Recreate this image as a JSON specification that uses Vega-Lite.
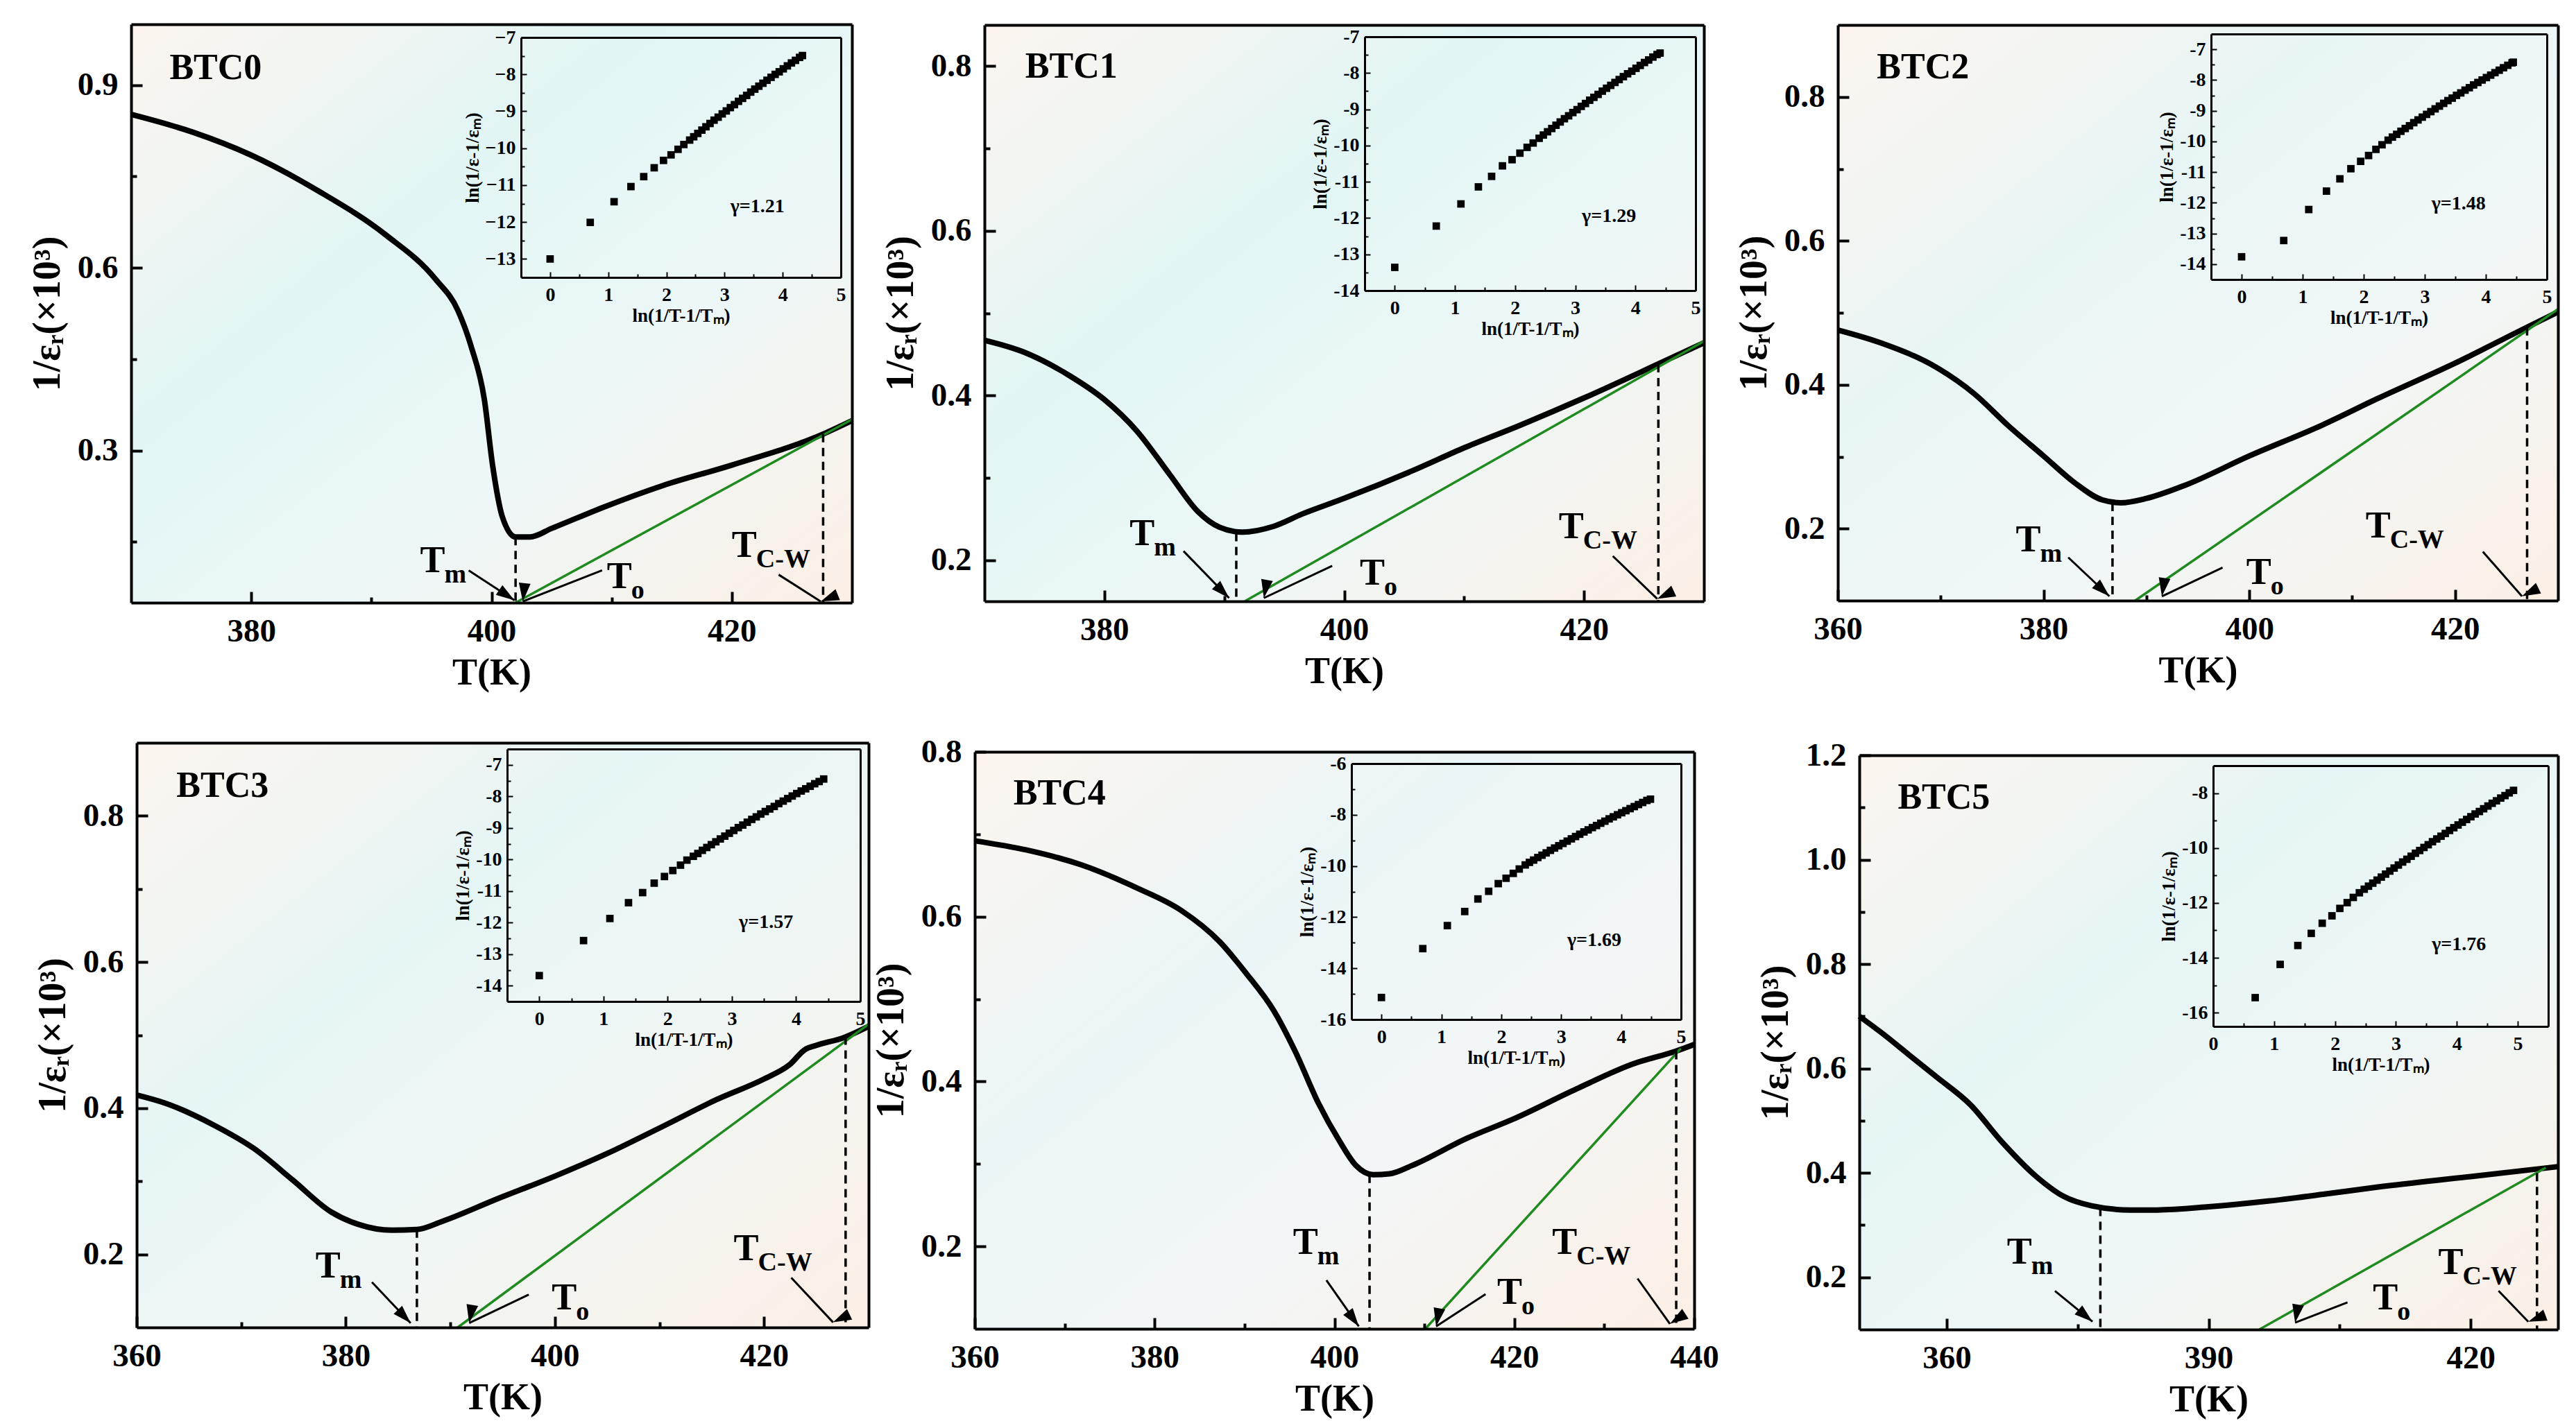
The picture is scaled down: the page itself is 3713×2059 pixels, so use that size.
{
"$schema": "https://vega.github.io/schema/vega-lite/v6.json",
"width": 3713, "height": 2059, "autosize": "none", "padding": 0, "background": "white",
"config": {
  "view": {"stroke": null},
  "axis": {"grid": false, "zindex": 1, "labelFont": "Liberation Serif", "labelFontWeight": "bold", "labelColor": "black",
    "titleFont": "Liberation Serif", "titleFontWeight": "bold", "titleColor": "black", "domainColor": "black", "tickColor": "black",
    "labelFlush": false, "labelOverlap": false, "labelBound": false},
  "text": {"font": "Liberation Serif", "fontWeight": "bold", "color": "black"}
},
"datasets": {
  "c0": [{"T":370,"v":0.852},{"T":375.1,"v":0.823},{"T":380,"v":0.785},{"T":385.6,"v":0.726},{"T":391.2,"v":0.654},{"T":395.35,"v":0.581},{"T":397.2,"v":0.53},{"T":398.3,"v":0.471},{"T":399.4,"v":0.384},{"T":400.1,"v":0.274},{"T":400.9,"v":0.191},{"T":402,"v":0.158},{"T":403.2,"v":0.158},{"T":405,"v":0.172},{"T":409.6,"v":0.209},{"T":414.2,"v":0.242},{"T":420,"v":0.276},{"T":427.6,"v":0.327},{"T":430,"v":0.349}],
  "g0": [{"T":402,"v":0.05},{"T":430,"v":0.351}],
  "d0": [{"T":402,"v":0.158},{"T":427.6,"v":0.327}],
  "a0": [{"k":"Tm","sub":"m","tx":394.05,"ty":0.1,"ax":398.1,"ay":0.103,"bx":401.9,"by":0.054},
         {"k":"To","sub":"o","tx":409.6,"ty":0.074,"ax":409.2,"ay":0.103,"bx":402.6,"by":0.052},
         {"k":"TCW","sub":"C-W","tx":420,"ty":0.125,"ax":423.9,"ay":0.096,"bx":427.4,"by":0.052}],
  "i0": [{"x":0,"y":-13},{"x":0.69,"y":-12.01},{"x":1.1,"y":-11.45},{"x":1.39,"y":-11.04},{"x":1.61,"y":-10.77},{"x":1.79,"y":-10.53},{"x":1.95,"y":-10.33},{"x":2.08,"y":-10.18},{"x":2.2,"y":-10.03},{"x":2.3,"y":-9.9},{"x":2.4,"y":-9.78},
         {"x":2.47,"y":-9.69},{"x":2.54,"y":-9.6},{"x":2.61,"y":-9.51},{"x":2.68,"y":-9.42},{"x":2.75,"y":-9.33},{"x":2.82,"y":-9.24},{"x":2.89,"y":-9.16},{"x":2.96,"y":-9.07},{"x":3.03,"y":-8.99},{"x":3.1,"y":-8.9},{"x":3.17,"y":-8.82},{"x":3.24,"y":-8.73},{"x":3.31,"y":-8.65},{"x":3.38,"y":-8.57},{"x":3.45,"y":-8.48},{"x":3.52,"y":-8.4},{"x":3.59,"y":-8.32},{"x":3.66,"y":-8.24},{"x":3.73,"y":-8.16},{"x":3.8,"y":-8.08},{"x":3.87,"y":-8},{"x":3.94,"y":-7.93},{"x":4.01,"y":-7.85},{"x":4.08,"y":-7.77},{"x":4.15,"y":-7.69},{"x":4.22,"y":-7.62},{"x":4.29,"y":-7.54},{"x":4.34,"y":-7.49}],
  "c1": [{"T":370,"v":0.467},{"T":373.4,"v":0.452},{"T":377.1,"v":0.424},{"T":380,"v":0.395},{"T":382.7,"v":0.357},{"T":385.5,"v":0.303},{"T":387.8,"v":0.259},{"T":389.6,"v":0.24},{"T":391.5,"v":0.234},{"T":394.1,"v":0.241},{"T":396.5,"v":0.256},{"T":400,"v":0.275},{"T":405.6,"v":0.308},{"T":410.1,"v":0.337},{"T":414.7,"v":0.364},{"T":420,"v":0.397},{"T":426.3,"v":0.439},{"T":430,"v":0.464}],
  "g1": [{"T":391.7,"v":0.15},{"T":430,"v":0.466}],
  "d1": [{"T":391,"v":0.233},{"T":426.2,"v":0.438}],
  "a1": [{"k":"Tm","sub":"m","tx":382.1,"ty":0.218,"ax":386.6,"ay":0.211,"bx":390.4,"by":0.154},
         {"k":"To","sub":"o","tx":401.3,"ty":0.17,"ax":399,"ay":0.193,"bx":393.3,"by":0.154},
         {"k":"TCW","sub":"C-W","tx":417.9,"ty":0.227,"ax":422.4,"ay":0.205,"bx":426.1,"by":0.153}],
  "i1": [{"x":0,"y":-13.36},{"x":0.69,"y":-12.22},{"x":1.1,"y":-11.61},{"x":1.39,"y":-11.14},{"x":1.61,"y":-10.85},{"x":1.79,"y":-10.56},{"x":1.95,"y":-10.39},{"x":2.08,"y":-10.21},{"x":2.2,"y":-10.05},{"x":2.3,"y":-9.93},{"x":2.4,"y":-9.8},
         {"x":2.47,"y":-9.71},{"x":2.54,"y":-9.62},{"x":2.61,"y":-9.53},{"x":2.68,"y":-9.44},{"x":2.75,"y":-9.35},{"x":2.82,"y":-9.26},{"x":2.89,"y":-9.18},{"x":2.96,"y":-9.09},{"x":3.03,"y":-9.01},{"x":3.1,"y":-8.92},{"x":3.17,"y":-8.84},{"x":3.24,"y":-8.75},{"x":3.31,"y":-8.67},{"x":3.38,"y":-8.59},{"x":3.45,"y":-8.5},{"x":3.52,"y":-8.42},{"x":3.59,"y":-8.34},{"x":3.66,"y":-8.26},{"x":3.73,"y":-8.18},{"x":3.8,"y":-8.1},{"x":3.87,"y":-8.02},{"x":3.94,"y":-7.95},{"x":4.01,"y":-7.87},{"x":4.08,"y":-7.79},{"x":4.15,"y":-7.71},{"x":4.22,"y":-7.64},{"x":4.29,"y":-7.56},{"x":4.36,"y":-7.49},{"x":4.41,"y":-7.45}],
  "c2": [{"T":360,"v":0.476},{"T":364.2,"v":0.458},{"T":369.6,"v":0.424},{"T":373.3,"v":0.387},{"T":376.5,"v":0.344},{"T":380,"v":0.301},{"T":383,"v":0.264},{"T":385.7,"v":0.24},{"T":387.5,"v":0.236},{"T":390,"v":0.242},{"T":393.7,"v":0.26},{"T":400,"v":0.301},{"T":407.1,"v":0.344},{"T":412.5,"v":0.381},{"T":420,"v":0.43},{"T":427,"v":0.48},{"T":430,"v":0.501}],
  "g2": [{"T":388.9,"v":0.1},{"T":430,"v":0.505}],
  "d2": [{"T":386.7,"v":0.236},{"T":427,"v":0.48}],
  "a2": [{"k":"Tm","sub":"m","tx":377.3,"ty":0.168,"ax":382.4,"ay":0.16,"bx":386.4,"by":0.106},
         {"k":"To","sub":"o","tx":399.7,"ty":0.123,"ax":397.4,"ay":0.146,"bx":391.5,"by":0.106},
         {"k":"TCW","sub":"C-W","tx":411.3,"ty":0.188,"ax":422.7,"ay":0.168,"bx":426.5,"by":0.106}],
  "i2": [{"x":0,"y":-13.76},{"x":0.69,"y":-13.23},{"x":1.1,"y":-12.22},{"x":1.39,"y":-11.62},{"x":1.61,"y":-11.22},{"x":1.79,"y":-10.89},{"x":1.95,"y":-10.65},{"x":2.08,"y":-10.46},{"x":2.2,"y":-10.26},{"x":2.3,"y":-10.11},{"x":2.4,"y":-9.96},
         {"x":2.47,"y":-9.86},{"x":2.54,"y":-9.77},{"x":2.61,"y":-9.67},{"x":2.68,"y":-9.58},{"x":2.75,"y":-9.49},{"x":2.82,"y":-9.39},{"x":2.89,"y":-9.3},{"x":2.96,"y":-9.21},{"x":3.03,"y":-9.12},{"x":3.1,"y":-9.03},{"x":3.17,"y":-8.94},{"x":3.24,"y":-8.85},{"x":3.31,"y":-8.76},{"x":3.38,"y":-8.67},{"x":3.45,"y":-8.59},{"x":3.52,"y":-8.5},{"x":3.59,"y":-8.42},{"x":3.66,"y":-8.33},{"x":3.73,"y":-8.25},{"x":3.8,"y":-8.16},{"x":3.87,"y":-8.08},{"x":3.94,"y":-8},{"x":4.01,"y":-7.92},{"x":4.08,"y":-7.84},{"x":4.15,"y":-7.76},{"x":4.22,"y":-7.68},{"x":4.29,"y":-7.6},{"x":4.36,"y":-7.52},{"x":4.43,"y":-7.44},{"x":4.45,"y":-7.42}],
  "c3": [{"T":360,"v":0.418},{"T":362.7,"v":0.407},{"T":367.5,"v":0.376},{"T":371.2,"v":0.345},{"T":374.9,"v":0.302},{"T":378.6,"v":0.258},{"T":381.2,"v":0.241},{"T":384.4,"v":0.233},{"T":386.8,"v":0.234},{"T":389.2,"v":0.245},{"T":394.5,"v":0.276},{"T":400,"v":0.307},{"T":405,"v":0.338},{"T":410.3,"v":0.375},{"T":415.5,"v":0.412},{"T":420,"v":0.44},{"T":422.4,"v":0.459},{"T":424,"v":0.481},{"T":425,"v":0.486},{"T":427.7,"v":0.497},{"T":430,"v":0.512}],
  "g3": [{"T":390.7,"v":0.1},{"T":430,"v":0.515}],
  "d3": [{"T":386.8,"v":0.234},{"T":427.8,"v":0.498}],
  "a3": [{"k":"Tm","sub":"m","tx":377.1,"ty":0.168,"ax":382.5,"ay":0.162,"bx":386.2,"by":0.106},
         {"k":"To","sub":"o","tx":399.7,"ty":0.125,"ax":397.5,"ay":0.145,"bx":391.8,"by":0.106},
         {"k":"TCW","sub":"C-W","tx":417.1,"ty":0.192,"ax":422.6,"ay":0.168,"bx":426.6,"by":0.107}],
  "i3": [{"x":0,"y":-13.68},{"x":0.69,"y":-12.57},{"x":1.1,"y":-11.87},{"x":1.39,"y":-11.37},{"x":1.61,"y":-11.05},{"x":1.79,"y":-10.75},{"x":1.95,"y":-10.54},{"x":2.08,"y":-10.35},{"x":2.2,"y":-10.18},{"x":2.3,"y":-10.02},{"x":2.4,"y":-9.9},
         {"x":2.47,"y":-9.81},{"x":2.54,"y":-9.71},{"x":2.61,"y":-9.62},{"x":2.68,"y":-9.53},{"x":2.75,"y":-9.44},{"x":2.82,"y":-9.35},{"x":2.89,"y":-9.26},{"x":2.96,"y":-9.17},{"x":3.03,"y":-9.08},{"x":3.1,"y":-8.99},{"x":3.17,"y":-8.91},{"x":3.24,"y":-8.82},{"x":3.31,"y":-8.73},{"x":3.38,"y":-8.65},{"x":3.45,"y":-8.56},{"x":3.52,"y":-8.48},{"x":3.59,"y":-8.4},{"x":3.66,"y":-8.32},{"x":3.73,"y":-8.23},{"x":3.8,"y":-8.15},{"x":3.87,"y":-8.07},{"x":3.94,"y":-7.99},{"x":4.01,"y":-7.91},{"x":4.08,"y":-7.83},{"x":4.15,"y":-7.76},{"x":4.22,"y":-7.68},{"x":4.29,"y":-7.6},{"x":4.36,"y":-7.53},{"x":4.43,"y":-7.45}],
  "c4": [{"T":360,"v":0.692},{"T":365.7,"v":0.681},{"T":371.8,"v":0.663},{"T":378,"v":0.635},{"T":382.9,"v":0.608},{"T":387.2,"v":0.57},{"T":390.2,"v":0.531},{"T":393.3,"v":0.485},{"T":395.7,"v":0.435},{"T":398.2,"v":0.374},{"T":400.6,"v":0.327},{"T":402.4,"v":0.298},{"T":404.3,"v":0.287},{"T":406.1,"v":0.288},{"T":408.6,"v":0.298},{"T":414.7,"v":0.331},{"T":420,"v":0.355},{"T":426.9,"v":0.391},{"T":433.1,"v":0.421},{"T":438,"v":0.437},{"T":440,"v":0.445}],
  "g4": [{"T":410.1,"v":0.1},{"T":438.5,"v":0.44}],
  "d4": [{"T":403.9,"v":0.287},{"T":438,"v":0.437}],
  "a4": [{"k":"Tm","sub":"m","tx":395.4,"ty":0.191,"ax":399.1,"ay":0.159,"bx":402.7,"by":0.103},
         {"k":"To","sub":"o","tx":418.1,"ty":0.13,"ax":416.8,"ay":0.142,"bx":411.3,"by":0.103},
         {"k":"TCW","sub":"C-W","tx":424.2,"ty":0.191,"ax":433.7,"ay":0.161,"bx":437.3,"by":0.106}],
  "i4": [{"x":0,"y":-15.14},{"x":0.69,"y":-13.23},{"x":1.1,"y":-12.33},{"x":1.39,"y":-11.78},{"x":1.61,"y":-11.29},{"x":1.79,"y":-10.99},{"x":1.95,"y":-10.69},{"x":2.08,"y":-10.48},{"x":2.2,"y":-10.29},{"x":2.3,"y":-10.12},{"x":2.4,"y":-9.96},
         {"x":2.47,"y":-9.86},{"x":2.54,"y":-9.77},{"x":2.61,"y":-9.67},{"x":2.68,"y":-9.58},{"x":2.75,"y":-9.49},{"x":2.82,"y":-9.39},{"x":2.89,"y":-9.3},{"x":2.96,"y":-9.21},{"x":3.03,"y":-9.12},{"x":3.1,"y":-9.03},{"x":3.17,"y":-8.94},{"x":3.24,"y":-8.85},{"x":3.31,"y":-8.76},{"x":3.38,"y":-8.67},{"x":3.45,"y":-8.59},{"x":3.52,"y":-8.5},{"x":3.59,"y":-8.42},{"x":3.66,"y":-8.33},{"x":3.73,"y":-8.25},{"x":3.8,"y":-8.16},{"x":3.87,"y":-8.08},{"x":3.94,"y":-8},{"x":4.01,"y":-7.92},{"x":4.08,"y":-7.84},{"x":4.15,"y":-7.76},{"x":4.22,"y":-7.68},{"x":4.29,"y":-7.6},{"x":4.36,"y":-7.52},{"x":4.43,"y":-7.44},{"x":4.49,"y":-7.39}],
  "c5": [{"T":350,"v":0.7},{"T":352.5,"v":0.669},{"T":355.7,"v":0.626},{"T":358.9,"v":0.583},{"T":362.7,"v":0.531},{"T":366.4,"v":0.458},{"T":370.2,"v":0.394},{"T":373.4,"v":0.355},{"T":376.6,"v":0.337},{"T":381,"v":0.329},{"T":384.1,"v":0.329},{"T":390,"v":0.335},{"T":396.8,"v":0.346},{"T":403.1,"v":0.359},{"T":409.4,"v":0.373},{"T":420,"v":0.393},{"T":430,"v":0.412}],
  "g5": [{"T":395.8,"v":0.1},{"T":428.6,"v":0.41}],
  "d5": [{"T":377.6,"v":0.333},{"T":427.6,"v":0.4}],
  "a5": [{"k":"Tm","sub":"m","tx":366.9,"ty":0.226,"ax":372.4,"ay":0.174,"bx":376.7,"by":0.115},
         {"k":"To","sub":"o","tx":408.8,"ty":0.139,"ax":405.9,"ay":0.152,"bx":399.9,"by":0.113},
         {"k":"TCW","sub":"C-W","tx":416.3,"ty":0.206,"ax":423.2,"ay":0.174,"bx":426.6,"by":0.115}],
  "i5": [{"x":0.69,"y":-15.45},{"x":1.1,"y":-14.24},{"x":1.39,"y":-13.55},{"x":1.61,"y":-13.11},{"x":1.79,"y":-12.74},{"x":1.95,"y":-12.47},{"x":2.08,"y":-12.2},{"x":2.2,"y":-11.99},{"x":2.3,"y":-11.8},{"x":2.4,"y":-11.63},{"x":2.48,"y":-11.5},
         {"x":2.55,"y":-11.39},{"x":2.62,"y":-11.28},{"x":2.69,"y":-11.17},{"x":2.76,"y":-11.06},{"x":2.83,"y":-10.95},{"x":2.9,"y":-10.84},{"x":2.97,"y":-10.73},{"x":3.04,"y":-10.62},{"x":3.11,"y":-10.51},{"x":3.18,"y":-10.41},{"x":3.25,"y":-10.3},{"x":3.32,"y":-10.19},{"x":3.39,"y":-10.09},{"x":3.46,"y":-9.98},{"x":3.53,"y":-9.88},{"x":3.6,"y":-9.77},{"x":3.67,"y":-9.67},{"x":3.74,"y":-9.57},{"x":3.81,"y":-9.47},{"x":3.88,"y":-9.36},{"x":3.95,"y":-9.26},{"x":4.02,"y":-9.16},{"x":4.09,"y":-9.06},{"x":4.16,"y":-8.96},{"x":4.23,"y":-8.86},{"x":4.3,"y":-8.76},{"x":4.37,"y":-8.67},{"x":4.44,"y":-8.57},{"x":4.51,"y":-8.47},{"x":4.58,"y":-8.37},{"x":4.65,"y":-8.28},{"x":4.72,"y":-8.18},{"x":4.79,"y":-8.09},{"x":4.86,"y":-7.99},{"x":4.93,"y":-7.9}]
},
"resolve": {"scale": {"x": "independent", "y": "independent", "angle": "independent"}},
"layer": [

{"data":{"values":[{}]},"mark":{"type":"rect","fill":{"gradient":"linear","x1":0,"y1":0,"x2":1,"y2":1,"stops":[{"offset":0,"color":"#fdf5ef"},{"offset":0.35,"color":"#e2f5f5"},{"offset":0.65,"color":"#edf7f7"},{"offset":1,"color":"#fcefe5"}]}},
 "encoding":{"x":{"datum":370,"type":"quantitative","scale":{"domain":[370,430],"range":[189,1228]},"axis":null},"x2":{"datum":430},
  "y":{"datum":0.05,"type":"quantitative","scale":{"domain":[0.05,1],"range":[869,35]},"axis":null},"y2":{"datum":1}}},
{"data":{"name":"c0"},"mark":{"type":"line","color":"black","strokeWidth":8,"interpolate":"monotone"},
 "encoding":{"x":{"field":"T","type":"quantitative","scale":{"domain":[370,430],"range":[189,1228]},
   "axis":{"zindex":1,"orient":"bottom","offset":-1190,"values":[380,400,420],"format":"d","tickSize":-16,"tickWidth":4,"domainWidth":4,"labelFontSize":47,"labelPadding":34,"title":"T(K)","titleFontSize":54,"titlePadding":10}},
  "y":{"field":"v","type":"quantitative","scale":{"domain":[0.05,1],"range":[869,35]},
   "axis":{"zindex":1,"orient":"left","offset":-189,"values":[0.3,0.6,0.9],"format":".1f","tickSize":-16,"tickWidth":4,"domainWidth":4,"labelFontSize":47,"labelPadding":35,"title":"1/εᵣ(×10³)","titleFontSize":56,"titlePadding":14}}}},
{"data":{"name":"g0"},"mark":{"type":"line","color":"#1f8a1f","strokeWidth":3.5},
 "encoding":{"x":{"field":"T","type":"quantitative","scale":{"domain":[370,430],"range":[189,1228]},
   "axis":{"zindex":1,"orient":"bottom","offset":-1190,"values":[390,410],"tickSize":-8,"tickWidth":4,"labels":false,"domain":false,"title":null}},
  "y":{"field":"v","type":"quantitative","scale":{"domain":[0.05,1],"range":[869,35]},
   "axis":{"zindex":1,"orient":"left","offset":-189,"values":[0.15,0.45,0.75],"tickSize":-8,"tickWidth":4,"labels":false,"domain":false,"title":null}}}},
{"data":{"name":"d0"},"mark":{"type":"rule","color":"black","strokeWidth":3.5,"strokeDash":[12,8]},
 "encoding":{"x":{"field":"T","type":"quantitative","scale":{"domain":[370,430],"range":[189,1228]},
   "axis":{"zindex":1,"orient":"top","offset":-35,"ticks":false,"labels":false,"domainWidth":4,"title":null}},
  "y":{"field":"v","type":"quantitative","scale":{"domain":[0.05,1],"range":[869,35]},
   "axis":{"zindex":1,"orient":"right","offset":-2485,"ticks":false,"labels":false,"domainWidth":4,"title":null}},"y2":{"datum":0.05}}},
{"data":{"name":"a0"},"mark":{"type":"rule","color":"black","strokeWidth":3},
 "encoding":{"x":{"field":"ax","type":"quantitative","scale":{"domain":[370,430],"range":[189,1228]},"axis":null},"x2":{"field":"bx"},
  "y":{"field":"ay","type":"quantitative","scale":{"domain":[0.05,1],"range":[869,35]},"axis":null},"y2":{"field":"by"}}},
{"data":{"name":"a0"},"mark":{"type":"point","shape":"M0,0L-1,-0.32L-1,0.32Z","filled":true,"color":"black","opacity":1,"size":2800},
 "encoding":{"x":{"field":"bx","type":"quantitative","scale":{"domain":[370,430],"range":[189,1228]},"axis":null},
  "y":{"field":"by","type":"quantitative","scale":{"domain":[0.05,1],"range":[869,35]},"axis":null},
  "angle":{"field":"k","type":"nominal","scale":{"domain":["Tm","To","TCW"],"range":[34,158,32]},"legend":null}}},
{"data":{"name":"a0"},"mark":{"type":"text","align":"left","baseline":"alphabetic","fontSize":54,"text":"T"},
 "encoding":{"x":{"field":"tx","type":"quantitative","scale":{"domain":[370,430],"range":[189,1228]},"axis":null},
  "y":{"field":"ty","type":"quantitative","scale":{"domain":[0.05,1],"range":[869,35]},"axis":null}}},
{"data":{"name":"a0"},"mark":{"type":"text","align":"left","baseline":"alphabetic","fontSize":38,"dx":35,"dy":15},
 "encoding":{"x":{"field":"tx","type":"quantitative","scale":{"domain":[370,430],"range":[189,1228]},"axis":null},
  "y":{"field":"ty","type":"quantitative","scale":{"domain":[0.05,1],"range":[869,35]},"axis":null},"text":{"field":"sub"}}},
{"data":{"values":[{"T":373.2,"v":0.91,"t":"BTC0"}]},"mark":{"type":"text","align":"left","baseline":"alphabetic","fontSize":52},
 "encoding":{"x":{"field":"T","type":"quantitative","scale":{"domain":[370,430],"range":[189,1228]},"axis":null},
  "y":{"field":"v","type":"quantitative","scale":{"domain":[0.05,1],"range":[869,35]},"axis":null},"text":{"field":"t"}}},
{"data":{"name":"i0"},"mark":{"type":"square","filled":true,"color":"black","opacity":1,"size":115},
 "encoding":{"x":{"field":"x","type":"quantitative","scale":{"domain":[-0.5,5],"range":[751,1212]},
   "axis":{"zindex":1,"orient":"bottom","offset":-1659,"values":[0,1,2,3,4,5],"format":"d","tickSize":-8,"tickWidth":2,"domainWidth":3,"labelFontSize":28,"labelPadding":19,"title":"ln(1/T-1/Tₘ)","titleFontSize":27,"titlePadding":3}},
  "y":{"field":"y","type":"quantitative","scale":{"domain":[-13.5,-7],"range":[400,54]},
   "axis":{"zindex":1,"orient":"left","offset":-751,"values":[-13,-12,-11,-10,-9,-8,-7],"format":"d","tickSize":-8,"tickWidth":2,"domainWidth":3,"labelFontSize":28,"labelPadding":16,"title":"ln(1/ε-1/εₘ)","titleFontSize":27,"titlePadding":4}}}},
{"data":{"values":[{"x":3.1,"y":-11.73,"t":"γ=1.21"}]},"mark":{"type":"text","align":"left","baseline":"alphabetic","fontSize":28},
 "encoding":{"x":{"field":"x","type":"quantitative","scale":{"domain":[-0.5,5],"range":[751,1212]},
   "axis":{"zindex":1,"orient":"top","offset":-54,"ticks":false,"labels":false,"domainWidth":3,"title":null}},
  "y":{"field":"y","type":"quantitative","scale":{"domain":[-13.5,-7],"range":[400,54]},
   "axis":{"zindex":1,"orient":"right","offset":-2501,"ticks":false,"labels":false,"domainWidth":3,"title":null}},"text":{"field":"t"}}},
{"data":{"values":[{"x":3.1,"y":-11.73,"t":"γ=1.21"}]},"mark":{"type":"text","opacity":0},
 "encoding":{"x":{"field":"x","type":"quantitative","scale":{"domain":[-0.5,5],"range":[751,1212]},
   "axis":{"zindex":1,"orient":"bottom","offset":-1659,"values":[0.5,1.5,2.5,3.5,4.5],"tickSize":-5,"tickWidth":2,"labels":false,"domain":false,"title":null}},
  "y":{"field":"y","type":"quantitative","scale":{"domain":[-13.5,-7],"range":[400,54]},
   "axis":{"zindex":1,"orient":"left","offset":-751,"values":[-12.5,-11.5,-10.5,-9.5,-8.5,-7.5],"tickSize":-5,"tickWidth":2,"labels":false,"domain":false,"title":null}},"text":{"field":"t"}}},

{"data":{"values":[{}]},"mark":{"type":"rect","fill":{"gradient":"linear","x1":0,"y1":0,"x2":1,"y2":1,"stops":[{"offset":0,"color":"#fdf5ef"},{"offset":0.35,"color":"#e2f5f5"},{"offset":0.65,"color":"#edf7f7"},{"offset":1,"color":"#fcefe5"}]}},
 "encoding":{"x":{"datum":370,"type":"quantitative","scale":{"domain":[370,430],"range":[1419,2456]},"axis":null},"x2":{"datum":430},
  "y":{"datum":0.15,"type":"quantitative","scale":{"domain":[0.15,0.85],"range":[867,36]},"axis":null},"y2":{"datum":0.85}}},
{"data":{"name":"c1"},"mark":{"type":"line","color":"black","strokeWidth":8,"interpolate":"monotone"},
 "encoding":{"x":{"field":"T","type":"quantitative","scale":{"domain":[370,430],"range":[1419,2456]},
   "axis":{"zindex":1,"orient":"bottom","offset":-1192,"values":[380,400,420],"format":"d","tickSize":-16,"tickWidth":4,"domainWidth":4,"labelFontSize":47,"labelPadding":34,"title":"T(K)","titleFontSize":54,"titlePadding":10}},
  "y":{"field":"v","type":"quantitative","scale":{"domain":[0.15,0.85],"range":[867,36]},
   "axis":{"zindex":1,"orient":"left","offset":-1419,"values":[0.2,0.4,0.6,0.8],"format":".1f","tickSize":-16,"tickWidth":4,"domainWidth":4,"labelFontSize":47,"labelPadding":35,"title":"1/εᵣ(×10³)","titleFontSize":56,"titlePadding":14}}}},
{"data":{"name":"g1"},"mark":{"type":"line","color":"#1f8a1f","strokeWidth":3.5},
 "encoding":{"x":{"field":"T","type":"quantitative","scale":{"domain":[370,430],"range":[1419,2456]},
   "axis":{"zindex":1,"orient":"bottom","offset":-1192,"values":[390,410],"tickSize":-8,"tickWidth":4,"labels":false,"domain":false,"title":null}},
  "y":{"field":"v","type":"quantitative","scale":{"domain":[0.15,0.85],"range":[867,36]},
   "axis":{"zindex":1,"orient":"left","offset":-1419,"values":[0.3,0.5,0.7],"tickSize":-8,"tickWidth":4,"labels":false,"domain":false,"title":null}}}},
{"data":{"name":"d1"},"mark":{"type":"rule","color":"black","strokeWidth":3.5,"strokeDash":[12,8]},
 "encoding":{"x":{"field":"T","type":"quantitative","scale":{"domain":[370,430],"range":[1419,2456]},
   "axis":{"zindex":1,"orient":"top","offset":-36,"ticks":false,"labels":false,"domainWidth":4,"title":null}},
  "y":{"field":"v","type":"quantitative","scale":{"domain":[0.15,0.85],"range":[867,36]},
   "axis":{"zindex":1,"orient":"right","offset":-1257,"ticks":false,"labels":false,"domainWidth":4,"title":null}},"y2":{"datum":0.15}}},
{"data":{"name":"a1"},"mark":{"type":"rule","color":"black","strokeWidth":3},
 "encoding":{"x":{"field":"ax","type":"quantitative","scale":{"domain":[370,430],"range":[1419,2456]},"axis":null},"x2":{"field":"bx"},
  "y":{"field":"ay","type":"quantitative","scale":{"domain":[0.15,0.85],"range":[867,36]},"axis":null},"y2":{"field":"by"}}},
{"data":{"name":"a1"},"mark":{"type":"point","shape":"M0,0L-1,-0.32L-1,0.32Z","filled":true,"color":"black","opacity":1,"size":2800},
 "encoding":{"x":{"field":"bx","type":"quantitative","scale":{"domain":[370,430],"range":[1419,2456]},"axis":null},
  "y":{"field":"by","type":"quantitative","scale":{"domain":[0.15,0.85],"range":[867,36]},"axis":null},
  "angle":{"field":"k","type":"nominal","scale":{"domain":["Tm","To","TCW"],"range":[45,155,44]},"legend":null}}},
{"data":{"name":"a1"},"mark":{"type":"text","align":"left","baseline":"alphabetic","fontSize":54,"text":"T"},
 "encoding":{"x":{"field":"tx","type":"quantitative","scale":{"domain":[370,430],"range":[1419,2456]},"axis":null},
  "y":{"field":"ty","type":"quantitative","scale":{"domain":[0.15,0.85],"range":[867,36]},"axis":null}}},
{"data":{"name":"a1"},"mark":{"type":"text","align":"left","baseline":"alphabetic","fontSize":38,"dx":35,"dy":15},
 "encoding":{"x":{"field":"tx","type":"quantitative","scale":{"domain":[370,430],"range":[1419,2456]},"axis":null},
  "y":{"field":"ty","type":"quantitative","scale":{"domain":[0.15,0.85],"range":[867,36]},"axis":null},"text":{"field":"sub"}}},
{"data":{"values":[{"T":373.4,"v":0.786,"t":"BTC1"}]},"mark":{"type":"text","align":"left","baseline":"alphabetic","fontSize":52},
 "encoding":{"x":{"field":"T","type":"quantitative","scale":{"domain":[370,430],"range":[1419,2456]},"axis":null},
  "y":{"field":"v","type":"quantitative","scale":{"domain":[0.15,0.85],"range":[867,36]},"axis":null},"text":{"field":"t"}}},
{"data":{"name":"i1"},"mark":{"type":"square","filled":true,"color":"black","opacity":1,"size":115},
 "encoding":{"x":{"field":"x","type":"quantitative","scale":{"domain":[-0.5,5],"range":[1967,2444]},
   "axis":{"zindex":1,"orient":"bottom","offset":-1640,"values":[0,1,2,3,4,5],"format":"d","tickSize":-8,"tickWidth":2,"domainWidth":3,"labelFontSize":28,"labelPadding":19,"title":"ln(1/T-1/Tₘ)","titleFontSize":27,"titlePadding":3}},
  "y":{"field":"y","type":"quantitative","scale":{"domain":[-14,-7],"range":[419,53]},
   "axis":{"zindex":1,"orient":"left","offset":-1967,"values":[-14,-13,-12,-11,-10,-9,-8,-7],"format":"d","labelExpr":"replace(datum.label, '−', '-')","tickSize":-8,"tickWidth":2,"domainWidth":3,"labelFontSize":28,"labelPadding":16,"title":"ln(1/ε-1/εₘ)","titleFontSize":27,"titlePadding":4}}}},
{"data":{"values":[{"x":3.11,"y":-12.1,"t":"γ=1.29"}]},"mark":{"type":"text","align":"left","baseline":"alphabetic","fontSize":28},
 "encoding":{"x":{"field":"x","type":"quantitative","scale":{"domain":[-0.5,5],"range":[1967,2444]},
   "axis":{"zindex":1,"orient":"top","offset":-53,"ticks":false,"labels":false,"domainWidth":3,"title":null}},
  "y":{"field":"y","type":"quantitative","scale":{"domain":[-14,-7],"range":[419,53]},
   "axis":{"zindex":1,"orient":"right","offset":-1269,"ticks":false,"labels":false,"domainWidth":3,"title":null}},"text":{"field":"t"}}},
{"data":{"values":[{"x":3.11,"y":-12.1,"t":"γ=1.29"}]},"mark":{"type":"text","opacity":0},
 "encoding":{"x":{"field":"x","type":"quantitative","scale":{"domain":[-0.5,5],"range":[1967,2444]},
   "axis":{"zindex":1,"orient":"bottom","offset":-1640,"values":[0.5,1.5,2.5,3.5,4.5],"tickSize":-5,"tickWidth":2,"labels":false,"domain":false,"title":null}},
  "y":{"field":"y","type":"quantitative","scale":{"domain":[-14,-7],"range":[419,53]},
   "axis":{"zindex":1,"orient":"left","offset":-1967,"values":[-13.5,-12.5,-11.5,-10.5,-9.5,-8.5,-7.5],"tickSize":-5,"tickWidth":2,"labels":false,"domain":false,"title":null}},"text":{"field":"t"}}},

{"data":{"values":[{}]},"mark":{"type":"rect","fill":{"gradient":"linear","x1":0,"y1":0,"x2":1,"y2":1,"stops":[{"offset":0,"color":"#fdf5ef"},{"offset":0.35,"color":"#e8f5f5"},{"offset":0.65,"color":"#f1f7f7"},{"offset":1,"color":"#fcefe5"}]}},
 "encoding":{"x":{"datum":360,"type":"quantitative","scale":{"domain":[360,430],"range":[2649,3687]},"axis":null},"x2":{"datum":430},
  "y":{"datum":0.1,"type":"quantitative","scale":{"domain":[0.1,0.9],"range":[866,36]},"axis":null},"y2":{"datum":0.9}}},
{"data":{"name":"c2"},"mark":{"type":"line","color":"black","strokeWidth":8,"interpolate":"monotone"},
 "encoding":{"x":{"field":"T","type":"quantitative","scale":{"domain":[360,430],"range":[2649,3687]},
   "axis":{"zindex":1,"orient":"bottom","offset":-1193,"values":[360,380,400,420],"format":"d","tickSize":-16,"tickWidth":4,"domainWidth":4,"labelFontSize":47,"labelPadding":34,"title":"T(K)","titleFontSize":54,"titlePadding":10}},
  "y":{"field":"v","type":"quantitative","scale":{"domain":[0.1,0.9],"range":[866,36]},
   "axis":{"zindex":1,"orient":"left","offset":-2649,"values":[0.2,0.4,0.6,0.8],"format":".1f","tickSize":-16,"tickWidth":4,"domainWidth":4,"labelFontSize":47,"labelPadding":35,"title":"1/εᵣ(×10³)","titleFontSize":56,"titlePadding":14}}}},
{"data":{"name":"g2"},"mark":{"type":"line","color":"#1f8a1f","strokeWidth":3.5},
 "encoding":{"x":{"field":"T","type":"quantitative","scale":{"domain":[360,430],"range":[2649,3687]},
   "axis":{"zindex":1,"orient":"bottom","offset":-1193,"values":[370,390,410],"tickSize":-8,"tickWidth":4,"labels":false,"domain":false,"title":null}},
  "y":{"field":"v","type":"quantitative","scale":{"domain":[0.1,0.9],"range":[866,36]},
   "axis":{"zindex":1,"orient":"left","offset":-2649,"values":[0.3,0.5,0.7],"tickSize":-8,"tickWidth":4,"labels":false,"domain":false,"title":null}}}},
{"data":{"name":"d2"},"mark":{"type":"rule","color":"black","strokeWidth":3.5,"strokeDash":[12,8]},
 "encoding":{"x":{"field":"T","type":"quantitative","scale":{"domain":[360,430],"range":[2649,3687]},
   "axis":{"zindex":1,"orient":"top","offset":-36,"ticks":false,"labels":false,"domainWidth":4,"title":null}},
  "y":{"field":"v","type":"quantitative","scale":{"domain":[0.1,0.9],"range":[866,36]},
   "axis":{"zindex":1,"orient":"right","offset":-26,"ticks":false,"labels":false,"domainWidth":4,"title":null}},"y2":{"datum":0.1}}},
{"data":{"name":"a2"},"mark":{"type":"rule","color":"black","strokeWidth":3},
 "encoding":{"x":{"field":"ax","type":"quantitative","scale":{"domain":[360,430],"range":[2649,3687]},"axis":null},"x2":{"field":"bx"},
  "y":{"field":"ay","type":"quantitative","scale":{"domain":[0.1,0.9],"range":[866,36]},"axis":null},"y2":{"field":"by"}}},
{"data":{"name":"a2"},"mark":{"type":"point","shape":"M0,0L-1,-0.32L-1,0.32Z","filled":true,"color":"black","opacity":1,"size":2800},
 "encoding":{"x":{"field":"bx","type":"quantitative","scale":{"domain":[360,430],"range":[2649,3687]},"axis":null},
  "y":{"field":"by","type":"quantitative","scale":{"domain":[0.1,0.9],"range":[866,36]},"axis":null},
  "angle":{"field":"k","type":"nominal","scale":{"domain":["Tm","To","TCW"],"range":[43,154,48]},"legend":null}}},
{"data":{"name":"a2"},"mark":{"type":"text","align":"left","baseline":"alphabetic","fontSize":54,"text":"T"},
 "encoding":{"x":{"field":"tx","type":"quantitative","scale":{"domain":[360,430],"range":[2649,3687]},"axis":null},
  "y":{"field":"ty","type":"quantitative","scale":{"domain":[0.1,0.9],"range":[866,36]},"axis":null}}},
{"data":{"name":"a2"},"mark":{"type":"text","align":"left","baseline":"alphabetic","fontSize":38,"dx":35,"dy":15},
 "encoding":{"x":{"field":"tx","type":"quantitative","scale":{"domain":[360,430],"range":[2649,3687]},"axis":null},
  "y":{"field":"ty","type":"quantitative","scale":{"domain":[0.1,0.9],"range":[866,36]},"axis":null},"text":{"field":"sub"}}},
{"data":{"values":[{"T":363.8,"v":0.826,"t":"BTC2"}]},"mark":{"type":"text","align":"left","baseline":"alphabetic","fontSize":52},
 "encoding":{"x":{"field":"T","type":"quantitative","scale":{"domain":[360,430],"range":[2649,3687]},"axis":null},
  "y":{"field":"v","type":"quantitative","scale":{"domain":[0.1,0.9],"range":[866,36]},"axis":null},"text":{"field":"t"}}},
{"data":{"name":"i2"},"mark":{"type":"square","filled":true,"color":"black","opacity":1,"size":115},
 "encoding":{"x":{"field":"x","type":"quantitative","scale":{"domain":[-0.5,5],"range":[3187,3671]},
   "axis":{"zindex":1,"orient":"bottom","offset":-1656,"values":[0,1,2,3,4,5],"format":"d","tickSize":-8,"tickWidth":2,"domainWidth":3,"labelFontSize":28,"labelPadding":19,"title":"ln(1/T-1/Tₘ)","titleFontSize":27,"titlePadding":3}},
  "y":{"field":"y","type":"quantitative","scale":{"domain":[-14.5,-6.5],"range":[403,49]},
   "axis":{"zindex":1,"orient":"left","offset":-3187,"values":[-14,-13,-12,-11,-10,-9,-8,-7],"format":"d","labelExpr":"replace(datum.label, '−', '-')","tickSize":-8,"tickWidth":2,"domainWidth":3,"labelFontSize":28,"labelPadding":16,"title":"ln(1/ε-1/εₘ)","titleFontSize":27,"titlePadding":4}}}},
{"data":{"values":[{"x":3.11,"y":-12.22,"t":"γ=1.48"}]},"mark":{"type":"text","align":"left","baseline":"alphabetic","fontSize":28},
 "encoding":{"x":{"field":"x","type":"quantitative","scale":{"domain":[-0.5,5],"range":[3187,3671]},
   "axis":{"zindex":1,"orient":"top","offset":-49,"ticks":false,"labels":false,"domainWidth":3,"title":null}},
  "y":{"field":"y","type":"quantitative","scale":{"domain":[-14.5,-6.5],"range":[403,49]},
   "axis":{"zindex":1,"orient":"right","offset":-42,"ticks":false,"labels":false,"domainWidth":3,"title":null}},"text":{"field":"t"}}},
{"data":{"values":[{"x":3.11,"y":-12.22,"t":"γ=1.48"}]},"mark":{"type":"text","opacity":0},
 "encoding":{"x":{"field":"x","type":"quantitative","scale":{"domain":[-0.5,5],"range":[3187,3671]},
   "axis":{"zindex":1,"orient":"bottom","offset":-1656,"values":[0.5,1.5,2.5,3.5,4.5],"tickSize":-5,"tickWidth":2,"labels":false,"domain":false,"title":null}},
  "y":{"field":"y","type":"quantitative","scale":{"domain":[-14.5,-6.5],"range":[403,49]},
   "axis":{"zindex":1,"orient":"left","offset":-3187,"values":[-13.5,-12.5,-11.5,-10.5,-9.5,-8.5,-7.5],"tickSize":-5,"tickWidth":2,"labels":false,"domain":false,"title":null}},"text":{"field":"t"}}},

{"data":{"values":[{}]},"mark":{"type":"rect","fill":{"gradient":"linear","x1":0,"y1":0,"x2":1,"y2":1,"stops":[{"offset":0,"color":"#fdf5ef"},{"offset":0.35,"color":"#e6f5f5"},{"offset":0.65,"color":"#f0f6f4"},{"offset":1,"color":"#fcefe5"}]}},
 "encoding":{"x":{"datum":360,"type":"quantitative","scale":{"domain":[360,430],"range":[197,1252]},"axis":null},"x2":{"datum":430},
  "y":{"datum":0.1,"type":"quantitative","scale":{"domain":[0.1,0.9],"range":[1914,1071]},"axis":null},"y2":{"datum":0.9}}},
{"data":{"name":"c3"},"mark":{"type":"line","color":"black","strokeWidth":8,"interpolate":"monotone"},
 "encoding":{"x":{"field":"T","type":"quantitative","scale":{"domain":[360,430],"range":[197,1252]},
   "axis":{"zindex":1,"orient":"bottom","offset":-145,"values":[360,380,400,420],"format":"d","tickSize":-16,"tickWidth":4,"domainWidth":4,"labelFontSize":47,"labelPadding":34,"title":"T(K)","titleFontSize":54,"titlePadding":10}},
  "y":{"field":"v","type":"quantitative","scale":{"domain":[0.1,0.9],"range":[1914,1071]},
   "axis":{"zindex":1,"orient":"left","offset":-197,"values":[0.2,0.4,0.6,0.8],"format":".1f","tickSize":-16,"tickWidth":4,"domainWidth":4,"labelFontSize":47,"labelPadding":35,"title":"1/εᵣ(×10³)","titleFontSize":56,"titlePadding":14}}}},
{"data":{"name":"g3"},"mark":{"type":"line","color":"#1f8a1f","strokeWidth":3.5},
 "encoding":{"x":{"field":"T","type":"quantitative","scale":{"domain":[360,430],"range":[197,1252]},
   "axis":{"zindex":1,"orient":"bottom","offset":-145,"values":[370,390,410],"tickSize":-8,"tickWidth":4,"labels":false,"domain":false,"title":null}},
  "y":{"field":"v","type":"quantitative","scale":{"domain":[0.1,0.9],"range":[1914,1071]},
   "axis":{"zindex":1,"orient":"left","offset":-197,"values":[0.3,0.5,0.7],"tickSize":-8,"tickWidth":4,"labels":false,"domain":false,"title":null}}}},
{"data":{"name":"d3"},"mark":{"type":"rule","color":"black","strokeWidth":3.5,"strokeDash":[12,8]},
 "encoding":{"x":{"field":"T","type":"quantitative","scale":{"domain":[360,430],"range":[197,1252]},
   "axis":{"zindex":1,"orient":"top","offset":-1071,"ticks":false,"labels":false,"domainWidth":4,"title":null}},
  "y":{"field":"v","type":"quantitative","scale":{"domain":[0.1,0.9],"range":[1914,1071]},
   "axis":{"zindex":1,"orient":"right","offset":-2461,"ticks":false,"labels":false,"domainWidth":4,"title":null}},"y2":{"datum":0.1}}},
{"data":{"name":"a3"},"mark":{"type":"rule","color":"black","strokeWidth":3},
 "encoding":{"x":{"field":"ax","type":"quantitative","scale":{"domain":[360,430],"range":[197,1252]},"axis":null},"x2":{"field":"bx"},
  "y":{"field":"ay","type":"quantitative","scale":{"domain":[0.1,0.9],"range":[1914,1071]},"axis":null},"y2":{"field":"by"}}},
{"data":{"name":"a3"},"mark":{"type":"point","shape":"M0,0L-1,-0.32L-1,0.32Z","filled":true,"color":"black","opacity":1,"size":2800},
 "encoding":{"x":{"field":"bx","type":"quantitative","scale":{"domain":[360,430],"range":[197,1252]},"axis":null},
  "y":{"field":"by","type":"quantitative","scale":{"domain":[0.1,0.9],"range":[1914,1071]},"axis":null},
  "angle":{"field":"k","type":"nominal","scale":{"domain":["Tm","To","TCW"],"range":[46,154,47]},"legend":null}}},
{"data":{"name":"a3"},"mark":{"type":"text","align":"left","baseline":"alphabetic","fontSize":54,"text":"T"},
 "encoding":{"x":{"field":"tx","type":"quantitative","scale":{"domain":[360,430],"range":[197,1252]},"axis":null},
  "y":{"field":"ty","type":"quantitative","scale":{"domain":[0.1,0.9],"range":[1914,1071]},"axis":null}}},
{"data":{"name":"a3"},"mark":{"type":"text","align":"left","baseline":"alphabetic","fontSize":38,"dx":35,"dy":15},
 "encoding":{"x":{"field":"tx","type":"quantitative","scale":{"domain":[360,430],"range":[197,1252]},"axis":null},
  "y":{"field":"ty","type":"quantitative","scale":{"domain":[0.1,0.9],"range":[1914,1071]},"axis":null},"text":{"field":"sub"}}},
{"data":{"values":[{"T":363.8,"v":0.826,"t":"BTC3"}]},"mark":{"type":"text","align":"left","baseline":"alphabetic","fontSize":52},
 "encoding":{"x":{"field":"T","type":"quantitative","scale":{"domain":[360,430],"range":[197,1252]},"axis":null},
  "y":{"field":"v","type":"quantitative","scale":{"domain":[0.1,0.9],"range":[1914,1071]},"axis":null},"text":{"field":"t"}}},
{"data":{"name":"i3"},"mark":{"type":"square","filled":true,"color":"black","opacity":1,"size":115},
 "encoding":{"x":{"field":"x","type":"quantitative","scale":{"domain":[-0.5,5],"range":[731,1240]},
   "axis":{"zindex":1,"orient":"bottom","offset":-615,"values":[0,1,2,3,4,5],"format":"d","tickSize":-8,"tickWidth":2,"domainWidth":3,"labelFontSize":28,"labelPadding":19,"title":"ln(1/T-1/Tₘ)","titleFontSize":27,"titlePadding":3}},
  "y":{"field":"y","type":"quantitative","scale":{"domain":[-14.5,-6.5],"range":[1444,1080]},
   "axis":{"zindex":1,"orient":"left","offset":-731,"values":[-14,-13,-12,-11,-10,-9,-8,-7],"format":"d","labelExpr":"replace(datum.label, '−', '-')","tickSize":-8,"tickWidth":2,"domainWidth":3,"labelFontSize":28,"labelPadding":16,"title":"ln(1/ε-1/εₘ)","titleFontSize":27,"titlePadding":4}}}},
{"data":{"values":[{"x":3.11,"y":-12.18,"t":"γ=1.57"}]},"mark":{"type":"text","align":"left","baseline":"alphabetic","fontSize":28},
 "encoding":{"x":{"field":"x","type":"quantitative","scale":{"domain":[-0.5,5],"range":[731,1240]},
   "axis":{"zindex":1,"orient":"top","offset":-1080,"ticks":false,"labels":false,"domainWidth":3,"title":null}},
  "y":{"field":"y","type":"quantitative","scale":{"domain":[-14.5,-6.5],"range":[1444,1080]},
   "axis":{"zindex":1,"orient":"right","offset":-2473,"ticks":false,"labels":false,"domainWidth":3,"title":null}},"text":{"field":"t"}}},
{"data":{"values":[{"x":3.11,"y":-12.18,"t":"γ=1.57"}]},"mark":{"type":"text","opacity":0},
 "encoding":{"x":{"field":"x","type":"quantitative","scale":{"domain":[-0.5,5],"range":[731,1240]},
   "axis":{"zindex":1,"orient":"bottom","offset":-615,"values":[0.5,1.5,2.5,3.5,4.5],"tickSize":-5,"tickWidth":2,"labels":false,"domain":false,"title":null}},
  "y":{"field":"y","type":"quantitative","scale":{"domain":[-14.5,-6.5],"range":[1444,1080]},
   "axis":{"zindex":1,"orient":"left","offset":-731,"values":[-13.5,-12.5,-11.5,-10.5,-9.5,-8.5,-7.5],"tickSize":-5,"tickWidth":2,"labels":false,"domain":false,"title":null}},"text":{"field":"t"}}},

{"data":{"values":[{}]},"mark":{"type":"rect","fill":{"gradient":"linear","x1":0,"y1":0,"x2":1,"y2":1,"stops":[{"offset":0,"color":"#fdf5ef"},{"offset":0.35,"color":"#eaf5f7"},{"offset":0.65,"color":"#f3f6f6"},{"offset":1,"color":"#fcefe5"}]}},
 "encoding":{"x":{"datum":360,"type":"quantitative","scale":{"domain":[360,440],"range":[1405,2442]},"axis":null},"x2":{"datum":440},
  "y":{"datum":0.1,"type":"quantitative","scale":{"domain":[0.1,0.8],"range":[1916,1084]},"axis":null},"y2":{"datum":0.8}}},
{"data":{"name":"c4"},"mark":{"type":"line","color":"black","strokeWidth":8,"interpolate":"monotone"},
 "encoding":{"x":{"field":"T","type":"quantitative","scale":{"domain":[360,440],"range":[1405,2442]},
   "axis":{"zindex":1,"orient":"bottom","offset":-143,"values":[360,380,400,420,440],"format":"d","tickSize":-16,"tickWidth":4,"domainWidth":4,"labelFontSize":47,"labelPadding":34,"title":"T(K)","titleFontSize":54,"titlePadding":10}},
  "y":{"field":"v","type":"quantitative","scale":{"domain":[0.1,0.8],"range":[1916,1084]},
   "axis":{"zindex":1,"orient":"left","offset":-1405,"values":[0.2,0.4,0.6,0.8],"format":".1f","tickSize":-16,"tickWidth":4,"domainWidth":4,"labelFontSize":47,"labelPadding":35,"title":"1/εᵣ(×10³)","titleFontSize":56,"titlePadding":14}}}},
{"data":{"name":"g4"},"mark":{"type":"line","color":"#1f8a1f","strokeWidth":3.5},
 "encoding":{"x":{"field":"T","type":"quantitative","scale":{"domain":[360,440],"range":[1405,2442]},
   "axis":{"zindex":1,"orient":"bottom","offset":-143,"values":[370,390,410,430],"tickSize":-8,"tickWidth":4,"labels":false,"domain":false,"title":null}},
  "y":{"field":"v","type":"quantitative","scale":{"domain":[0.1,0.8],"range":[1916,1084]},
   "axis":{"zindex":1,"orient":"left","offset":-1405,"values":[0.3,0.5,0.7],"tickSize":-8,"tickWidth":4,"labels":false,"domain":false,"title":null}}}},
{"data":{"name":"d4"},"mark":{"type":"rule","color":"black","strokeWidth":3.5,"strokeDash":[12,8]},
 "encoding":{"x":{"field":"T","type":"quantitative","scale":{"domain":[360,440],"range":[1405,2442]},
   "axis":{"zindex":1,"orient":"top","offset":-1084,"ticks":false,"labels":false,"domainWidth":4,"title":null}},
  "y":{"field":"v","type":"quantitative","scale":{"domain":[0.1,0.8],"range":[1916,1084]},
   "axis":{"zindex":1,"orient":"right","offset":-1271,"ticks":false,"labels":false,"domainWidth":4,"title":null}},"y2":{"datum":0.1}}},
{"data":{"name":"a4"},"mark":{"type":"rule","color":"black","strokeWidth":3},
 "encoding":{"x":{"field":"ax","type":"quantitative","scale":{"domain":[360,440],"range":[1405,2442]},"axis":null},"x2":{"field":"bx"},
  "y":{"field":"ay","type":"quantitative","scale":{"domain":[0.1,0.8],"range":[1916,1084]},"axis":null},"y2":{"field":"by"}}},
{"data":{"name":"a4"},"mark":{"type":"point","shape":"M0,0L-1,-0.32L-1,0.32Z","filled":true,"color":"black","opacity":1,"size":2800},
 "encoding":{"x":{"field":"bx","type":"quantitative","scale":{"domain":[360,440],"range":[1405,2442]},"axis":null},
  "y":{"field":"by","type":"quantitative","scale":{"domain":[0.1,0.8],"range":[1916,1084]},"axis":null},
  "angle":{"field":"k","type":"nominal","scale":{"domain":["Tm","To","TCW"],"range":[54,147,54]},"legend":null}}},
{"data":{"name":"a4"},"mark":{"type":"text","align":"left","baseline":"alphabetic","fontSize":54,"text":"T"},
 "encoding":{"x":{"field":"tx","type":"quantitative","scale":{"domain":[360,440],"range":[1405,2442]},"axis":null},
  "y":{"field":"ty","type":"quantitative","scale":{"domain":[0.1,0.8],"range":[1916,1084]},"axis":null}}},
{"data":{"name":"a4"},"mark":{"type":"text","align":"left","baseline":"alphabetic","fontSize":38,"dx":35,"dy":15},
 "encoding":{"x":{"field":"tx","type":"quantitative","scale":{"domain":[360,440],"range":[1405,2442]},"axis":null},
  "y":{"field":"ty","type":"quantitative","scale":{"domain":[0.1,0.8],"range":[1916,1084]},"axis":null},"text":{"field":"sub"}}},
{"data":{"values":[{"T":364.3,"v":0.736,"t":"BTC4"}]},"mark":{"type":"text","align":"left","baseline":"alphabetic","fontSize":52},
 "encoding":{"x":{"field":"T","type":"quantitative","scale":{"domain":[360,440],"range":[1405,2442]},"axis":null},
  "y":{"field":"v","type":"quantitative","scale":{"domain":[0.1,0.8],"range":[1916,1084]},"axis":null},"text":{"field":"t"}}},
{"data":{"name":"i4"},"mark":{"type":"square","filled":true,"color":"black","opacity":1,"size":115},
 "encoding":{"x":{"field":"x","type":"quantitative","scale":{"domain":[-0.5,5],"range":[1948,2423]},
   "axis":{"zindex":1,"orient":"bottom","offset":-589,"values":[0,1,2,3,4,5],"format":"d","tickSize":-8,"tickWidth":2,"domainWidth":3,"labelFontSize":28,"labelPadding":19,"title":"ln(1/T-1/Tₘ)","titleFontSize":27,"titlePadding":3}},
  "y":{"field":"y","type":"quantitative","scale":{"domain":[-16,-6],"range":[1470,1101]},
   "axis":{"zindex":1,"orient":"left","offset":-1948,"values":[-16,-14,-12,-10,-8,-6],"format":"d","labelExpr":"replace(datum.label, '−', '-')","tickSize":-8,"tickWidth":2,"domainWidth":3,"labelFontSize":28,"labelPadding":16,"title":"ln(1/ε-1/εₘ)","titleFontSize":27,"titlePadding":4}}}},
{"data":{"values":[{"x":3.1,"y":-13.12,"t":"γ=1.69"}]},"mark":{"type":"text","align":"left","baseline":"alphabetic","fontSize":28},
 "encoding":{"x":{"field":"x","type":"quantitative","scale":{"domain":[-0.5,5],"range":[1948,2423]},
   "axis":{"zindex":1,"orient":"top","offset":-1101,"ticks":false,"labels":false,"domainWidth":3,"title":null}},
  "y":{"field":"y","type":"quantitative","scale":{"domain":[-16,-6],"range":[1470,1101]},
   "axis":{"zindex":1,"orient":"right","offset":-1290,"ticks":false,"labels":false,"domainWidth":3,"title":null}},"text":{"field":"t"}}},
{"data":{"values":[{"x":3.1,"y":-13.12,"t":"γ=1.69"}]},"mark":{"type":"text","opacity":0},
 "encoding":{"x":{"field":"x","type":"quantitative","scale":{"domain":[-0.5,5],"range":[1948,2423]},
   "axis":{"zindex":1,"orient":"bottom","offset":-589,"values":[0.5,1.5,2.5,3.5,4.5],"tickSize":-5,"tickWidth":2,"labels":false,"domain":false,"title":null}},
  "y":{"field":"y","type":"quantitative","scale":{"domain":[-16,-6],"range":[1470,1101]},
   "axis":{"zindex":1,"orient":"left","offset":-1948,"values":[-15,-13,-11,-9,-7],"tickSize":-5,"tickWidth":2,"labels":false,"domain":false,"title":null}},"text":{"field":"t"}}},

{"data":{"values":[{}]},"mark":{"type":"rect","fill":{"gradient":"linear","x1":0,"y1":0,"x2":1,"y2":1,"stops":[{"offset":0,"color":"#fdf5ef"},{"offset":0.35,"color":"#e6f5f5"},{"offset":0.65,"color":"#eef6f5"},{"offset":1,"color":"#fcefe5"}]}},
 "encoding":{"x":{"datum":350,"type":"quantitative","scale":{"domain":[350,430],"range":[2680,3687]},"axis":null},"x2":{"datum":430},
  "y":{"datum":0.1,"type":"quantitative","scale":{"domain":[0.1,1.2],"range":[1917,1089]},"axis":null},"y2":{"datum":1.2}}},
{"data":{"name":"c5"},"mark":{"type":"line","color":"black","strokeWidth":8,"interpolate":"monotone"},
 "encoding":{"x":{"field":"T","type":"quantitative","scale":{"domain":[350,430],"range":[2680,3687]},
   "axis":{"zindex":1,"orient":"bottom","offset":-142,"values":[360,390,420],"format":"d","tickSize":-16,"tickWidth":4,"domainWidth":4,"labelFontSize":47,"labelPadding":34,"title":"T(K)","titleFontSize":54,"titlePadding":10}},
  "y":{"field":"v","type":"quantitative","scale":{"domain":[0.1,1.2],"range":[1917,1089]},
   "axis":{"zindex":1,"orient":"left","offset":-2680,"values":[0.2,0.4,0.6,0.8,1.0,1.2],"format":".1f","tickSize":-16,"tickWidth":4,"domainWidth":4,"labelFontSize":47,"labelPadding":35,"title":"1/εᵣ(×10³)","titleFontSize":56,"titlePadding":14}}}},
{"data":{"name":"g5"},"mark":{"type":"line","color":"#1f8a1f","strokeWidth":3.5},
 "encoding":{"x":{"field":"T","type":"quantitative","scale":{"domain":[350,430],"range":[2680,3687]},
   "axis":{"zindex":1,"orient":"bottom","offset":-142,"values":[375,405],"tickSize":-8,"tickWidth":4,"labels":false,"domain":false,"title":null}},
  "y":{"field":"v","type":"quantitative","scale":{"domain":[0.1,1.2],"range":[1917,1089]},
   "axis":{"zindex":1,"orient":"left","offset":-2680,"values":[0.3,0.5,0.7,0.9,1.1],"tickSize":-8,"tickWidth":4,"labels":false,"domain":false,"title":null}}}},
{"data":{"name":"d5"},"mark":{"type":"rule","color":"black","strokeWidth":3.5,"strokeDash":[12,8]},
 "encoding":{"x":{"field":"T","type":"quantitative","scale":{"domain":[350,430],"range":[2680,3687]},
   "axis":{"zindex":1,"orient":"top","offset":-1089,"ticks":false,"labels":false,"domainWidth":4,"title":null}},
  "y":{"field":"v","type":"quantitative","scale":{"domain":[0.1,1.2],"range":[1917,1089]},
   "axis":{"zindex":1,"orient":"right","offset":-26,"ticks":false,"labels":false,"domainWidth":4,"title":null}},"y2":{"datum":0.1}}},
{"data":{"name":"a5"},"mark":{"type":"rule","color":"black","strokeWidth":3},
 "encoding":{"x":{"field":"ax","type":"quantitative","scale":{"domain":[350,430],"range":[2680,3687]},"axis":null},"x2":{"field":"bx"},
  "y":{"field":"ay","type":"quantitative","scale":{"domain":[0.1,1.2],"range":[1917,1089]},"axis":null},"y2":{"field":"by"}}},
{"data":{"name":"a5"},"mark":{"type":"point","shape":"M0,0L-1,-0.32L-1,0.32Z","filled":true,"color":"black","opacity":1,"size":2800},
 "encoding":{"x":{"field":"bx","type":"quantitative","scale":{"domain":[350,430],"range":[2680,3687]},"axis":null},
  "y":{"field":"by","type":"quantitative","scale":{"domain":[0.1,1.2],"range":[1917,1089]},"axis":null},
  "angle":{"field":"k","type":"nominal","scale":{"domain":["Tm","To","TCW"],"range":[40,159,46]},"legend":null}}},
{"data":{"name":"a5"},"mark":{"type":"text","align":"left","baseline":"alphabetic","fontSize":54,"text":"T"},
 "encoding":{"x":{"field":"tx","type":"quantitative","scale":{"domain":[350,430],"range":[2680,3687]},"axis":null},
  "y":{"field":"ty","type":"quantitative","scale":{"domain":[0.1,1.2],"range":[1917,1089]},"axis":null}}},
{"data":{"name":"a5"},"mark":{"type":"text","align":"left","baseline":"alphabetic","fontSize":38,"dx":35,"dy":15},
 "encoding":{"x":{"field":"tx","type":"quantitative","scale":{"domain":[350,430],"range":[2680,3687]},"axis":null},
  "y":{"field":"ty","type":"quantitative","scale":{"domain":[0.1,1.2],"range":[1917,1089]},"axis":null},"text":{"field":"sub"}}},
{"data":{"values":[{"T":354.4,"v":1.098,"t":"BTC5"}]},"mark":{"type":"text","align":"left","baseline":"alphabetic","fontSize":52},
 "encoding":{"x":{"field":"T","type":"quantitative","scale":{"domain":[350,430],"range":[2680,3687]},"axis":null},
  "y":{"field":"v","type":"quantitative","scale":{"domain":[0.1,1.2],"range":[1917,1089]},"axis":null},"text":{"field":"t"}}},
{"data":{"name":"i5"},"mark":{"type":"square","filled":true,"color":"black","opacity":1,"size":115},
 "encoding":{"x":{"field":"x","type":"quantitative","scale":{"domain":[0,5.5],"range":[3190,3673]},
   "axis":{"zindex":1,"orient":"bottom","offset":-579,"values":[0,1,2,3,4,5],"format":"d","tickSize":-8,"tickWidth":2,"domainWidth":3,"labelFontSize":28,"labelPadding":19,"title":"ln(1/T-1/Tₘ)","titleFontSize":27,"titlePadding":3}},
  "y":{"field":"y","type":"quantitative","scale":{"domain":[-16.5,-7],"range":[1480,1104]},
   "axis":{"zindex":1,"orient":"left","offset":-3190,"values":[-16,-14,-12,-10,-8],"format":"d","labelExpr":"replace(datum.label, '−', '-')","tickSize":-8,"tickWidth":2,"domainWidth":3,"labelFontSize":28,"labelPadding":16,"title":"ln(1/ε-1/εₘ)","titleFontSize":27,"titlePadding":4}}}},
{"data":{"values":[{"x":3.59,"y":-13.73,"t":"γ=1.76"}]},"mark":{"type":"text","align":"left","baseline":"alphabetic","fontSize":28},
 "encoding":{"x":{"field":"x","type":"quantitative","scale":{"domain":[0,5.5],"range":[3190,3673]},
   "axis":{"zindex":1,"orient":"top","offset":-1104,"ticks":false,"labels":false,"domainWidth":3,"title":null}},
  "y":{"field":"y","type":"quantitative","scale":{"domain":[-16.5,-7],"range":[1480,1104]},
   "axis":{"zindex":1,"orient":"right","offset":-40,"ticks":false,"labels":false,"domainWidth":3,"title":null}},"text":{"field":"t"}}},
{"data":{"values":[{"x":3.59,"y":-13.73,"t":"γ=1.76"}]},"mark":{"type":"text","opacity":0},
 "encoding":{"x":{"field":"x","type":"quantitative","scale":{"domain":[0,5.5],"range":[3190,3673]},
   "axis":{"zindex":1,"orient":"bottom","offset":-579,"values":[0.5,1.5,2.5,3.5,4.5],"tickSize":-5,"tickWidth":2,"labels":false,"domain":false,"title":null}},
  "y":{"field":"y","type":"quantitative","scale":{"domain":[-16.5,-7],"range":[1480,1104]},
   "axis":{"zindex":1,"orient":"left","offset":-3190,"values":[-15,-13,-11,-9],"tickSize":-5,"tickWidth":2,"labels":false,"domain":false,"title":null}},"text":{"field":"t"}}}
]
}
